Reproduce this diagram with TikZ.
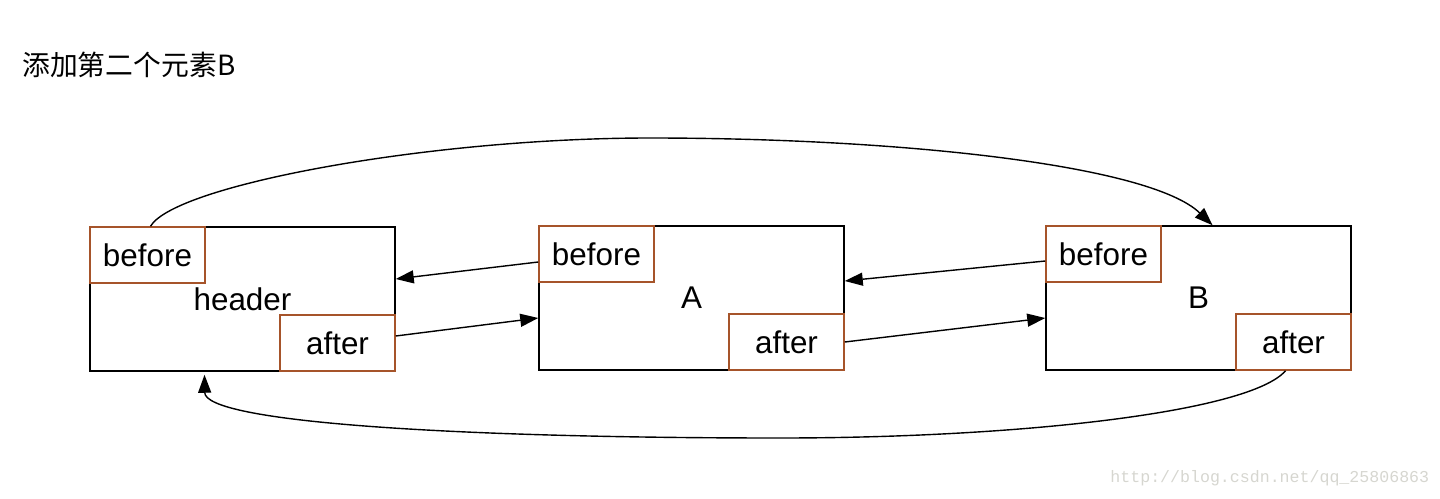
\documentclass[tikz,border=0pt]{standalone}
\usepackage{fontspec}
\setmainfont{Liberation Sans}
\newfontfamily\cjk{Noto Sans CJK SC}
\newfontfamily\wmfont{Liberation Mono}
\usetikzlibrary{arrows.meta, positioning}
\definecolor{fieldbrown}{RGB}{166,84,42}
\definecolor{wmgray}{RGB}{214,214,208}

\begin{document}
\begin{tikzpicture}[
    x=0.5pt, y=-0.5pt,
    >={Triangle[length=9pt, width=6.5pt]},
    every node/.style={font=\fontsize{15.7}{18}\selectfont},
    elembox/.style={draw, line width=0.75pt, minimum width=152.5pt, minimum height=72pt, inner sep=0pt, text depth=0pt, yshift=-1pt},
    fieldbox/.style={draw=fieldbrown, line width=0.75pt, minimum width=57.5pt, minimum height=28pt, inner sep=0pt, text depth=0pt},
    link/.style={->, line width=0.7pt},
]
\useasboundingbox (0,0) rectangle (1440,498);

% Title
\node[anchor=base west, inner sep=0pt, font=\cjk\fontsize{13.9}{16}\selectfont] (title) at (22,75) {添加第二个元素B};

% Elements
\node[elembox] (header) at (242.5,297) {header};
\node[elembox] (A) at (691.5,296) {A};
\node[elembox] (B) at (1198.5,296) {B};

% before / after fields
\foreach \e in {header, A, B} {
    \node[fieldbox, anchor=north west] (\e-bef) at (\e.north west) {before};
    \node[fieldbox, anchor=south east] (\e-aft) at (\e.south east) {after};
}

% Links between neighbours
\draw[link] ([yshift=-4pt]A-bef.west) -- ([yshift=10pt]header.east);
\draw[link] ([yshift=3.5pt]header-aft.east) -- ([yshift=-10pt]A.west);
\draw[link] ([yshift=-3.5pt]B-bef.west) -- ([yshift=8.5pt]A.east);
\draw[link] (A-aft.east) -- ([yshift=-10pt]B.west);

% header.before -> B, B.after -> header
\draw[link] ([xshift=1.5pt]header-bef.north) .. controls (175,185) and (430,138) .. (650,138)
    .. controls (900,138) and (1150,165) .. ([xshift=7pt]B.north);
\draw[link] ([xshift=-4pt]B-aft.south) .. controls (1250,412) and (1020,438) .. (780,438)
    .. controls (450,438) and (205,422) .. ([xshift=-19pt, yshift=-1.5pt]header.south);

% Watermark
\node[anchor=base west, inner sep=0pt, text=wmgray, font=\wmfont\fontsize{8.3}{10}\selectfont] (wm) at (1110,482) {http://blog.csdn.net/qq\_25806863};
\end{tikzpicture}
\end{document}
